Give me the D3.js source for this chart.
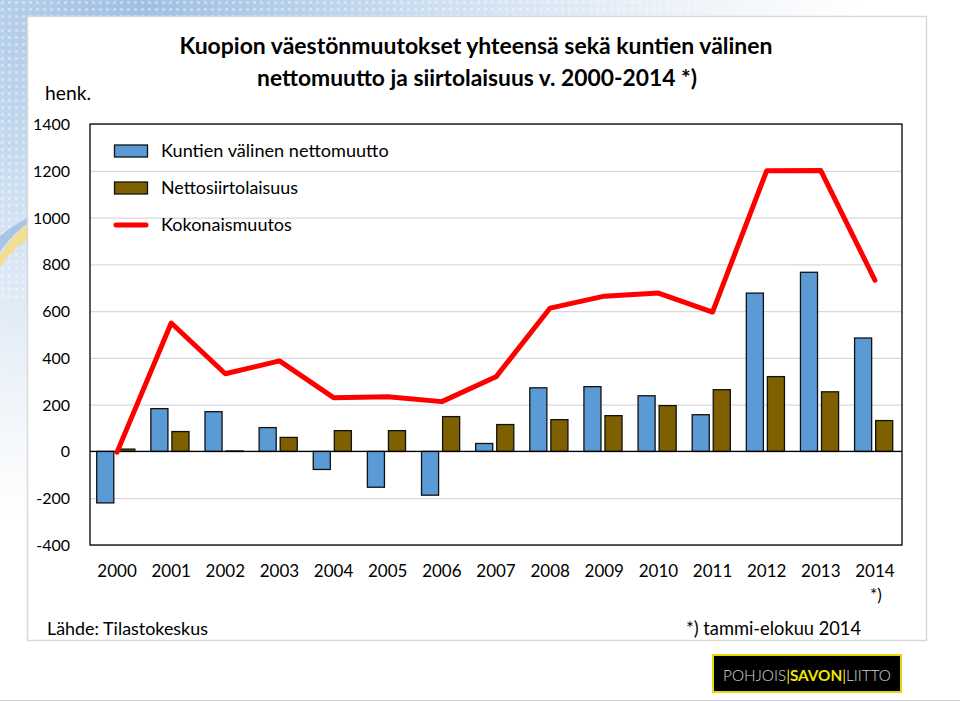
<!DOCTYPE html>
<html>
<head>
<meta charset="utf-8">
<script src="https://cdn.jsdelivr.net/npm/d3@7"></script>
<style>
  html, body { margin: 0; padding: 0; background: #ffffff; }
  svg { display: block; }
  text { font-family: Lato, "Open Sans", "Noto Sans", sans-serif; fill: #000; }
</style>
</head>
<body>
<script>
// ---------- DATA ----------
const years = ["2000","2001","2002","2003","2004","2005","2006","2007","2008","2009","2010","2011","2012","2013","2014"];
const kuntienValinen = [-220, 183, 170, 102, -77, -153, -187, 34, 272, 277, 238, 157, 677, 766, 485];
const nettosiirtolaisuus = [10, 85, 2, 60, 89, 89, 149, 115, 136, 153, 196, 264, 320, 255, 132];
const kokonaismuutos = [-3, 549, 332, 387, 230, 234, 213, 319, 613, 664, 677, 596, 1200, 1201, 732];
const yTicks = [-400, -200, 0, 200, 400, 600, 800, 1000, 1200, 1400];
const seriesNames = ["Kuntien välinen nettomuutto", "Nettosiirtolaisuus", "Kokonaismuutos"];
const titleLines = ["Kuopion väestönmuutokset yhteensä sekä kuntien välinen", "nettomuutto ja siirtolaisuus v. 2000-2014 *)"];
const unitLabel = "henk.";
const sourceLabel = "Lähde: Tilastokeskus";
const footnoteLabel = "*) tammi-elokuu 2014";

// ---------- SETUP ----------
const W = 960, H = 702;
const svg = d3.select("body").append("svg").attr("width", W).attr("height", H);
const defs = svg.append("defs");

// fit a text element to a target width by adjusting its font-size
function fit(sel, target) {
  const node = sel.node();
  const w = node.getComputedTextLength();
  const fs = parseFloat(sel.attr("font-size"));
  if (w > 0) sel.attr("font-size", (fs * target / w).toFixed(2));
  return sel;
}

// ---------- BACKGROUND ----------
const rg = defs.append("radialGradient").attr("id", "bgGrad")
  .attr("cx", 0.15).attr("cy", 0).attr("r", 0.75);
rg.append("stop").attr("offset", "0%").attr("stop-color", "#9fbfe3");
rg.append("stop").attr("offset", "40%").attr("stop-color", "#cddff1");
rg.append("stop").attr("offset", "75%").attr("stop-color", "#eef3f9");
rg.append("stop").attr("offset", "100%").attr("stop-color", "#ffffff");
svg.append("rect").attr("width", W).attr("height", H).attr("fill", "url(#bgGrad)");
// dotted texture at top
const pat = defs.append("pattern").attr("id", "dots").attr("width", 7).attr("height", 7)
  .attr("patternUnits", "userSpaceOnUse");
pat.append("rect").attr("x", 1).attr("y", 1).attr("width", 3).attr("height", 3).attr("fill", "#ffffff").attr("opacity", 0.35);
svg.append("rect").attr("x", 0).attr("y", 0).attr("width", 700).attr("height", 300).attr("fill", "url(#dots)");
// swoosh at left
svg.append("path").attr("d", "M0,255 C10,240 20,228 30,222 L30,238 C20,244 10,252 0,268 Z").attr("fill", "#f6dc7a").attr("opacity", 0.8);
svg.append("path").attr("d", "M0,236 C10,228 20,222 30,216 L30,222 C20,228 10,238 0,252 Z").attr("fill", "#9dbde0").attr("opacity", 0.8);
// bottom white area
svg.append("rect").attr("x", 0).attr("y", 645).attr("width", W).attr("height", 57).attr("fill", "#ffffff");
svg.append("line").attr("x1", 0).attr("x2", W).attr("y1", 700.5).attr("y2", 700.5).attr("stroke", "#d0d0d0");

// white panel
svg.append("rect").attr("x", 27.5).attr("y", 16.5).attr("width", 899).attr("height", 624)
  .attr("fill", "#ffffff").attr("stroke", "#d9d9d9").attr("stroke-width", 1.5);

// ---------- SCALES ----------
const plot = { left: 90, right: 902, top: 124, bottom: 545 };
const x = d3.scaleBand().domain(years).range([plot.left, plot.right]).paddingInner(0).paddingOuter(0);
const xInner = d3.scaleBand().domain(["k", "n"]).range([0, x.bandwidth()]).paddingInner(0.19).paddingOuter(0.38).align(0.42);
const y = d3.scaleLinear().domain([-400, 1400]).range([plot.bottom, plot.top]);

// gridlines
const g = svg.append("g");
g.append("g").attr("transform", `translate(${plot.left},0)`)
  .call(d3.axisLeft(y).tickValues(yTicks).tickSize(-(plot.right - plot.left)).tickFormat(""))
  .call(s => s.select(".domain").remove())
  .call(s => s.selectAll("line").attr("stroke", "#d9d9d9").attr("stroke-width", 1.2));

// y tick labels
g.selectAll(".ylab").data(yTicks).join("text")
  .attr("class", "ylab")
  .attr("x", 70).attr("y", d => y(d) + 6)
  .attr("text-anchor", "end").attr("font-size", 16)
  .text(d => d);

// bars
const barColors = { k: "#5b9bd5", n: "#7f6000" };
const series = [
  { key: "k", values: kuntienValinen },
  { key: "n", values: nettosiirtolaisuus }
];
series.forEach(s => {
  g.selectAll(".bar-" + s.key).data(s.values.map((v, i) => ({ v, year: years[i] }))).join("rect")
    .attr("class", "bar-" + s.key)
    .attr("x", d => x(d.year) + xInner(s.key))
    .attr("width", xInner.bandwidth())
    .attr("y", d => y(Math.max(0, d.v)))
    .attr("height", d => Math.abs(y(d.v) - y(0)))
    .attr("fill", barColors[s.key])
    .attr("stroke", "#111").attr("stroke-width", 1.3);
});

// zero line
g.append("line").attr("x1", plot.left).attr("x2", plot.right)
  .attr("y1", y(0)).attr("y2", y(0)).attr("stroke", "#000").attr("stroke-width", 1.3);

// plot frame
g.append("rect").attr("x", plot.left).attr("y", plot.top)
  .attr("width", plot.right - plot.left).attr("height", plot.bottom - plot.top)
  .attr("fill", "none").attr("stroke", "#000").attr("stroke-width", 1.3);

// line
const line = d3.line().x((d, i) => x(years[i]) + x.bandwidth() / 2).y(d => y(d));
g.append("path").datum(kokonaismuutos).attr("d", line)
  .attr("fill", "none").attr("stroke", "#ff0000").attr("stroke-width", 5)
  .attr("stroke-linejoin", "round").attr("stroke-linecap", "round");

// x labels
g.selectAll(".xlab").data(years).join("text")
  .attr("class", "xlab")
  .attr("x", d => x(d) + x.bandwidth() / 2).attr("y", 577)
  .attr("text-anchor", "middle").attr("font-size", 17)
  .text(d => d);
g.append("text").attr("x", x("2014") + x.bandwidth() / 2 + 1).attr("y", 601)
  .attr("text-anchor", "middle").attr("font-size", 17).text("*)");

// legend
const leg = svg.append("g");
const legY = [151, 188, 225];
leg.append("rect").attr("x", 114.5).attr("y", legY[0] - 6).attr("width", 33).attr("height", 12)
  .attr("fill", barColors.k).attr("stroke", "#111").attr("stroke-width", 1.3);
leg.append("rect").attr("x", 114.5).attr("y", legY[1] - 6).attr("width", 33).attr("height", 12)
  .attr("fill", barColors.n).attr("stroke", "#111").attr("stroke-width", 1.3);
leg.append("line").attr("x1", 116).attr("x2", 146).attr("y1", legY[2]).attr("y2", legY[2])
  .attr("stroke", "#ff0000").attr("stroke-width", 5).attr("stroke-linecap", "round");
const legW = [228, 137, 131];
seriesNames.forEach((n, i) => {
  const t = leg.append("text").attr("x", 161).attr("y", legY[i] + 6).attr("font-size", 16).text(n);
  fit(t, legW[i]);
});

// title
const t1 = svg.append("text").attr("x", 476).attr("y", 54).attr("text-anchor", "middle")
  .attr("font-size", 21).attr("font-weight", "bold").text(titleLines[0]);
fit(t1, 593);
const t2 = svg.append("text").attr("x", 477).attr("y", 86).attr("text-anchor", "middle")
  .attr("font-size", 21).attr("font-weight", "bold").text(titleLines[1]);
fit(t2, 440);

// unit
fit(svg.append("text").attr("x", 45).attr("y", 100).attr("font-size", 17).text(unitLabel), 46);

// footer texts
fit(svg.append("text").attr("x", 47).attr("y", 635).attr("font-size", 17).text(sourceLabel), 161);
fit(svg.append("text").attr("x", 686).attr("y", 635).attr("font-size", 17).text(footnoteLabel), 175);

// logo
const logo = svg.append("g");
logo.append("rect").attr("x", 713).attr("y", 655).attr("width", 188).attr("height", 37)
  .attr("fill", "#000").attr("stroke", "#e6d800").attr("stroke-width", 2);
const lt = logo.append("text").attr("x", 807).attr("y", 681).attr("text-anchor", "middle")
  .attr("font-size", 20);
lt.append("tspan").attr("fill", "#d8d8d8").attr("font-weight", 300).text("POHJOIS");
lt.append("tspan").attr("fill", "#f2e600").text("|");
lt.append("tspan").attr("fill", "#f2e600").attr("font-weight", "bold").text("SAVON");
lt.append("tspan").attr("fill", "#f2e600").text("|");
lt.append("tspan").attr("fill", "#d8d8d8").attr("font-weight", 300).text("LIITTO");
fit(lt, 168);
</script>
</body>
</html>
